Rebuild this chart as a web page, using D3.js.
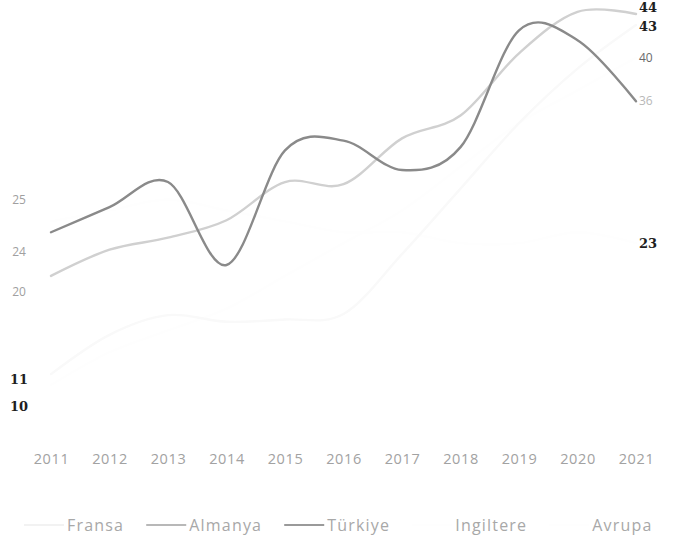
<!DOCTYPE html>
<html><head><meta charset="utf-8">
<script src="https://cdn.jsdelivr.net/npm/d3@7"></script>
<style>
html,body{margin:0;padding:0;background:#fff;}
svg{display:block;}
</style></head>
<body>
<svg id="chart" width="683" height="547"></svg>
<script>
// ---- data ----
const years = [2011,2012,2013,2014,2015,2016,2017,2018,2019,2020,2021];
const seriesNames = ["Fransa","Almanya","Türkiye","Ingiltere","Avrupa"];
const fransa    = [11, 14.6, 16.4, 15.8, 16, 16.5, 22, 28, 34, 39, 43];
const almanya   = [20, 22.4, 23.5, 25.1, 28.6, 28.4, 32.6, 34.7, 40.4, 44.2, 44];
const turkiye   = [24, 26.3, 28.6, 21, 31.5, 32.4, 29.7, 31.8, 42.5, 41.6, 36];
const ingiltere = [25, 26, 27, 26, 25, 24, 24, 23, 23, 24, 23];
const avrupa    = [10, 13, 15, 17, 20, 23, 26, 30, 34, 37, 40];
const seriesValues = [fransa, almanya, turkiye, ingiltere, avrupa];

// ---- styles ----
const lineColors = ["#f9f9f9","#d0d0d0","#8a8a8a","#fefefe","#fefefe"];
const swatchColors = ["#f2f2f2","#b8b8b8","#9a9a9a","#fefefe","#fefefe"];
// label styles per series: [color, weight]
const startLabelStyle = [["#1e1e1e","bold"],["#a0a0a0","normal"],["#a0a0a0","normal"],["#a0a0a0","normal"],["#1e1e1e","bold"]];
const endLabelStyle   = [["#1e1e1e","bold"],["#1e1e1e","bold"],["#b8b8b8","normal"],["#1e1e1e","bold"],["#6a6a6a","normal"]];
// vertical nudge (px) of labels from their value position
const startLabelNudge = [5, 16, 20, -22, 21];
const endLabelNudge   = [2, -7, 0, 0, 0];

const svg = d3.select("#chart");
const x = d3.scalePoint().domain(years).range([51, 636]);
const y = d3.scaleLinear().domain([10, 44]).range([385, 14]);

const line = d3.line()
  .x((d,i) => x(years[i]))
  .y(d => y(d))
  .curve(d3.curveCardinal.tension(0));

// draw faint ones first, then Almanya, then Türkiye
const order = [3,4,0,1,2];
order.forEach(k => {
  svg.append("path")
    .attr("d", line(seriesValues[k]))
    .attr("fill","none")
    .attr("stroke", lineColors[k])
    .attr("stroke-width", 2.4)
    .attr("stroke-linecap","round");
});

// x axis (labels only)
const xAxis = d3.axisBottom(x).tickSize(0).tickPadding(0);
const gx = svg.append("g").attr("transform","translate(0,454)").call(xAxis);
gx.select(".domain").remove();
gx.selectAll("text")
  .attr("font-family","'Open Sans', sans-serif")
  .attr("font-size", 14.5)
  .attr("fill","#a2a2a2")
  .attr("letter-spacing","0.6");

// start labels
seriesValues.forEach((vals,k) => {
  svg.append("text")
    .attr("x", 19)
    .attr("y", y(vals[0]) + startLabelNudge[k])
    .attr("dy","0.35em")
    .attr("text-anchor","middle")
    .attr("font-family", startLabelStyle[k][1]==="bold" ? "'DejaVu Serif', serif" : "'Open Sans', sans-serif")
    .attr("font-size", startLabelStyle[k][1]==="bold" ? 13 : 12)
    .attr("font-weight", startLabelStyle[k][1])
    .attr("fill", startLabelStyle[k][0])
    .text(vals[0]);
});
// end labels
seriesValues.forEach((vals,k) => {
  const v = vals[vals.length-1];
  svg.append("text")
    .attr("x", x(years[years.length-1]) + 3)
    .attr("y", y(v) + endLabelNudge[k])
    .attr("dy","0.35em")
    .attr("text-anchor","start")
    .attr("font-family", endLabelStyle[k][1]==="bold" ? "'DejaVu Serif', serif" : "'Open Sans', sans-serif")
    .attr("font-size", endLabelStyle[k][1]==="bold" ? 13 : 12)
    .attr("font-weight", endLabelStyle[k][1])
    .attr("fill", endLabelStyle[k][0])
    .text(v);
});

// legend
const legend = svg.append("g").attr("transform","translate(0,525)");
let cx = 24;
seriesNames.forEach((name,k) => {
  const g = legend.append("g").attr("transform",`translate(${cx},0)`);
  g.append("line").attr("x1",0).attr("x2",40).attr("y1",0).attr("y2",0)
    .attr("stroke", swatchColors[k]).attr("stroke-width",2);
  const t = g.append("text").attr("x",43).attr("dy","0.35em")
    .attr("font-family","'Open Sans', sans-serif")
    .attr("font-size",16).attr("fill","#a8a8a8")
    .attr("letter-spacing","1.2")
    .text(name);
  const w = t.node().getComputedTextLength();
  cx += 43 + w + 22;
});
</script>
</body></html>
